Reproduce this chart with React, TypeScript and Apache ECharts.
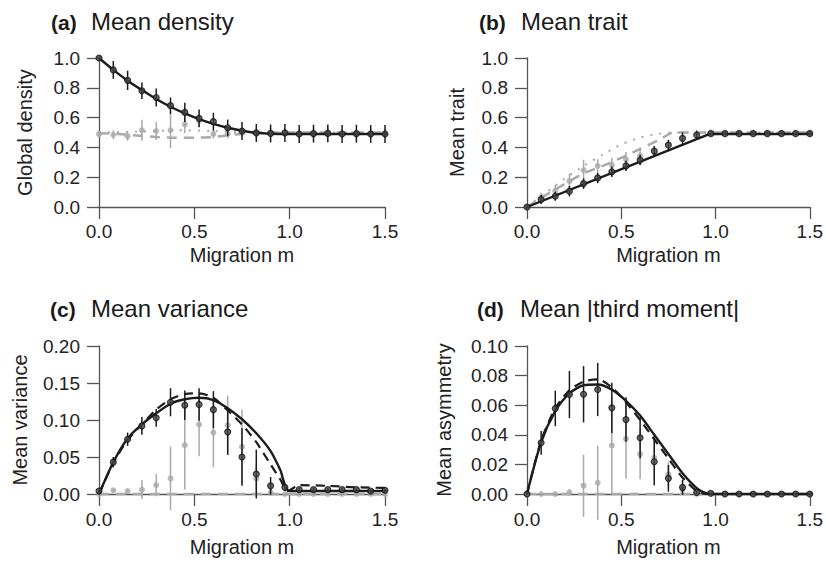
import React, { useEffect, useRef } from "react";
import * as echarts from "echarts";

const FONT = "'Liberation Sans', Arial, Helvetica, sans-serif";

// migration values at which simulations were run
const M = [0, 0.075, 0.15, 0.225, 0.3, 0.375, 0.45, 0.525, 0.6, 0.675, 0.75, 0.825, 0.9, 0.975, 1.05, 1.125, 1.2, 1.275, 1.35, 1.425, 1.5];

const xTicks = ["0.0", "0.5", "1.0", "1.5"];

// (a) Mean density
const aBlackPts = [1.0, 0.92, 0.85, 0.78, 0.735, 0.68, 0.635, 0.595, 0.573, 0.532, 0.51, 0.497, 0.494, 0.497, 0.49, 0.492, 0.494, 0.49, 0.492, 0.49, 0.49];
const aBlackErr = [0.01, 0.06, 0.065, 0.055, 0.06, 0.055, 0.065, 0.06, 0.06, 0.055, 0.06, 0.06, 0.06, 0.06, 0.06, 0.06, 0.06, 0.06, 0.06, 0.06, 0.06];
const aGrayPts = [0.49, 0.485, 0.475, 0.515, 0.51, 0.515, 0.555, 0.58, 0.49, 0.49, 0.505, 0.495, 0.5, 0.5, 0.495, 0.495, 0.5, 0.495, 0.49, 0.495, 0.495];
const aGrayErr = [0.02, 0.03, 0.03, 0.07, 0.06, 0.12, 0.06, 0.04, 0.03, 0.03, 0.03, 0.03, 0.03, 0.03, 0.03, 0.03, 0.03, 0.03, 0.03, 0.03, 0.03];
const aBlackCurve = [[0, 1.0], [0.075, 0.92], [0.15, 0.848], [0.225, 0.785], [0.3, 0.725], [0.375, 0.673], [0.45, 0.628], [0.525, 0.59], [0.6, 0.558], [0.675, 0.532], [0.75, 0.512], [0.825, 0.498], [0.9, 0.492], [1.0, 0.49], [1.54, 0.49]];
const aGrayDash = [[0, 0.495], [0.1, 0.49], [0.2, 0.48], [0.3, 0.47], [0.4, 0.465], [0.5, 0.465], [0.6, 0.47], [0.7, 0.485], [0.8, 0.495], [0.9, 0.5], [1.54, 0.5]];
const aGrayDot = [[0, 0.5], [0.2, 0.505], [0.4, 0.515], [0.6, 0.51], [0.8, 0.5], [1.54, 0.5]];

// (b) Mean trait
const bBlackPts = [0, 0.05, 0.072, 0.106, 0.157, 0.195, 0.236, 0.276, 0.315, 0.375, 0.416, 0.461, 0.483, 0.492, 0.492, 0.492, 0.492, 0.492, 0.492, 0.492, 0.492];
const bBlackErr = [0.01, 0.03, 0.03, 0.035, 0.035, 0.035, 0.035, 0.035, 0.035, 0.035, 0.035, 0.04, 0.03, 0.01, 0.01, 0.01, 0.01, 0.01, 0.01, 0.01, 0.01];
const bGrayPts = [0, 0.065, 0.108, 0.173, 0.247, 0.276, 0.281, 0.319, 0.344, null, null, null, null, 0.5, 0.5, 0.5, 0.5, 0.5, 0.5, 0.5, 0.5];
const bGrayErr = [0.01, 0.03, 0.04, 0.05, 0.07, 0.045, 0.05, 0.05, 0.05, 0, 0, 0, 0, 0.01, 0.01, 0.01, 0.01, 0.01, 0.01, 0.01, 0.01];
const bBlackCurve = [[0, 0], [0.96, 0.485], [1.0, 0.49], [1.54, 0.49]];
const bGrayDash = [[0, 0], [0.1, 0.08], [0.2, 0.155], [0.3, 0.225], [0.4, 0.275], [0.5, 0.33], [0.6, 0.39], [0.7, 0.45], [0.78, 0.5], [1.54, 0.5]];
const bGrayDot = [[0, 0], [0.1, 0.095], [0.2, 0.19], [0.3, 0.275], [0.4, 0.35], [0.5, 0.42], [0.6, 0.465], [0.7, 0.492], [0.78, 0.5], [1.54, 0.5]];

// (c) Mean variance
const cBlackPts = [0.004, 0.043, 0.074, 0.092, 0.103, 0.124, 0.12, 0.121, 0.114, 0.084, 0.05, 0.027, 0.011, 0.009, 0.006, 0.006, 0.006, 0.006, 0.006, 0.004, 0.005];
const cBlackErr = [0.002, 0.007, 0.009, 0.012, 0.012, 0.019, 0.02, 0.022, 0.025, 0.031, 0.039, 0.033, 0.012, 0.005, 0.002, 0.002, 0.002, 0.002, 0.002, 0.002, 0.002];
const cGrayPts = [0, 0.005, 0.004, 0.006, 0.012, 0.021, 0.066, 0.094, 0.083, 0.093, 0.064, 0.021, 0.002, 0, 0, 0, 0, 0, 0, 0, 0];
const cGrayErr = [0, 0.002, 0.002, 0.013, 0.015, 0.043, 0.06, 0.043, 0.047, 0.04, 0.05, 0.02, 0.004, 0, 0, 0, 0, 0, 0, 0, 0];
const cBlackCurve = [[0, 0], [0.075, 0.043], [0.15, 0.075], [0.225, 0.094], [0.3, 0.109], [0.375, 0.122], [0.45, 0.128], [0.525, 0.13], [0.6, 0.127], [0.675, 0.116], [0.75, 0.101], [0.825, 0.082], [0.9, 0.058], [0.95, 0.033], [1.0, 0.004], [1.53, 0.004]];
const cBlackDash = [[0, 0], [0.075, 0.042], [0.15, 0.073], [0.225, 0.094], [0.3, 0.114], [0.375, 0.128], [0.45, 0.135], [0.525, 0.136], [0.6, 0.13], [0.675, 0.113], [0.75, 0.094], [0.825, 0.07], [0.9, 0.04], [0.95, 0.02], [0.99, 0.004], [1.05, 0.012], [1.2, 0.011], [1.35, 0.009], [1.55, 0.008]];
const cGrayDash = [[0, 0], [1.53, 0]];

// (d) Mean |third moment|
const dBlackPts = [0, 0.0346, 0.0578, 0.0672, 0.0674, 0.0706, 0.0582, 0.0503, 0.038, 0.0218, 0.0106, 0.0045, 0.001, 0.0005, 0, 0, 0, 0, 0, 0, 0];
const dBlackErr = [0, 0.008, 0.012, 0.016, 0.019, 0.018, 0.017, 0.015, 0.014, 0.016, 0.009, 0.005, 0.001, 0, 0, 0, 0, 0, 0, 0, 0];
const dGrayPts = [0, 0, 0, 0.0011, 0.0056, 0.0076, 0.0328, 0.0373, 0.027, 0.0245, 0.0133, 0.003, 0, 0, 0, 0, 0, 0, 0, 0, 0];
const dGrayErr = [0, 0, 0, 0.002, 0.021, 0.025, 0.033, 0.027, 0.017, 0.015, 0.008, 0.003, 0, 0, 0, 0, 0, 0, 0, 0, 0];
const dBlackCurve = [[0, 0], [0.075, 0.035], [0.15, 0.056], [0.225, 0.068], [0.3, 0.0735], [0.375, 0.074], [0.45, 0.0705], [0.525, 0.063], [0.6, 0.053], [0.675, 0.04], [0.75, 0.027], [0.825, 0.014], [0.9, 0.004], [0.95, 0.0005], [1.0, 0], [1.52, 0]];
const dBlackDash = [[0, 0], [0.075, 0.036], [0.15, 0.058], [0.225, 0.07], [0.3, 0.076], [0.375, 0.0775], [0.45, 0.072], [0.525, 0.062], [0.6, 0.05], [0.675, 0.037], [0.75, 0.024], [0.825, 0.011], [0.9, 0.002], [0.95, 0], [1.55, 0]];
const dGrayDash = [[0, 0], [1.53, 0]];

const BLACK = "#1c1c1c";
const GRAY = "#a9a9a9";
const AXIS = "#555555";

function lineS(i: number, data: number[][], color: string, width: number, type: any, z: number) {
  return {
    type: "line", xAxisIndex: i, yAxisIndex: i, data, showSymbol: false, symbol: "none",
    clip: false, z, silent: true, smooth: 0.25,
    lineStyle: { color, width, type, cap: "butt" },
  };
}

function errS(i: number, vals: (number | null)[], errs: number[], color: string, z: number) {
  const data = M.map((m, k) => [m, vals[k], errs[k]]).filter((d) => d[1] != null && (d[2] as number) > 0);
  return {
    type: "custom", xAxisIndex: i, yAxisIndex: i, z, clip: false, silent: true, data,
    encode: { x: 0, y: 1 },
    renderItem: (_p: any, api: any) => {
      const x = api.value(0), y = api.value(1), e = api.value(2);
      const p1 = api.coord([x, y - e]);
      const p2 = api.coord([x, y + e]);
      return { type: "line", shape: { x1: p1[0], y1: p1[1], x2: p2[0], y2: p2[1] }, style: { stroke: color, lineWidth: 1.5 } };
    },
  };
}

function ptS(i: number, vals: (number | null)[], dark: boolean, z: number) {
  const data = M.map((m, k) => [m, vals[k]]).filter((d) => d[1] != null);
  return {
    type: "scatter", xAxisIndex: i, yAxisIndex: i, data, z, silent: true, symbolSize: 6, clip: false,
    itemStyle: dark ? { color: "#444444", borderColor: "#111111", borderWidth: 1.1 } : { color: GRAY, borderWidth: 0 },
  };
}

const grids = [
  { left: 99, top: 58, width: 286, height: 149 },
  { left: 527, top: 58, width: 286, height: 149 },
  { left: 99, top: 346, width: 286, height: 148 },
  { left: 527, top: 346, width: 286, height: 148 },
];

const yNames = ["Global density", "Mean trait", "Mean variance", "Mean asymmetry"];
const yMax = [1.0, 1.0, 0.2, 0.1];
const yInt = [0.2, 0.2, 0.05, 0.02];
const yDec = [1, 1, 2, 2];
const yNameGap = [64, 60, 69, 73];
const xNameGap = [38, 38, 43, 43];
const xLabelMargin = [15, 15, 16, 16];

const titles = [
  { tag: "(a)", name: "Mean density", tx: 51, nx: 91, base: 30 },
  { tag: "(b)", name: "Mean trait", tx: 479, nx: 521, base: 30 },
  { tag: "(c)", name: "Mean variance", tx: 50, nx: 91, base: 317 },
  { tag: "(d)", name: "Mean |third moment|", tx: 477, nx: 520, base: 317 },
];

export default function App() {
  const ref = useRef<HTMLDivElement>(null);
  useEffect(() => {
    if (!ref.current) return;
    const chart = echarts.init(ref.current, null, { renderer: "svg" });
    const axisLine = { show: true, lineStyle: { color: AXIS, width: 1.3 } };
    const axisTick = { show: true, inside: false, length: 12, lineStyle: { color: AXIS, width: 1.3 } };
    const xAxis = grids.map((_, i) => ({
      type: "value", gridIndex: i, min: 0, max: 1.5, interval: 0.5,
      name: "Migration m", nameLocation: "middle", nameGap: xNameGap[i],
      nameTextStyle: { fontFamily: FONT, fontSize: 20, color: "#222" },
      axisLine, axisTick, splitLine: { show: false },
      axisLabel: { fontFamily: FONT, fontSize: 19, color: "#222", margin: xLabelMargin[i], formatter: (v: number) => xTicks[Math.round(v / 0.5)] ?? v.toFixed(1) },
    }));
    const yAxis = grids.map((_, i) => ({
      type: "value", gridIndex: i, min: 0, max: yMax[i], interval: yInt[i],
      name: yNames[i], nameLocation: "middle", nameGap: yNameGap[i], nameRotate: 90,
      nameTextStyle: { fontFamily: FONT, fontSize: 20, color: "#222" },
      axisLine, axisTick, splitLine: { show: false },
      axisLabel: { fontFamily: FONT, fontSize: 19, color: "#222", margin: 19, formatter: (v: number) => v.toFixed(yDec[i]) },
    }));
    const series: any[] = [
      // a
      lineS(0, aGrayDot, GRAY, 2, [2, 7], 1),
      lineS(0, aGrayDash, GRAY, 2.5, [10, 7], 2),
      errS(0, aGrayPts, aGrayErr, GRAY, 3),
      ptS(0, aGrayPts, false, 4),
      lineS(0, aBlackCurve, BLACK, 2.4, "solid", 6),
      errS(0, aBlackPts, aBlackErr, BLACK, 7),
      ptS(0, aBlackPts, true, 8),
      // b
      lineS(1, bGrayDot, GRAY, 2, [2, 7], 1),
      lineS(1, bGrayDash, GRAY, 2.5, [10, 7], 2),
      errS(1, bGrayPts, bGrayErr, GRAY, 3),
      ptS(1, bGrayPts, false, 4),
      lineS(1, bBlackCurve, BLACK, 2.4, "solid", 6),
      errS(1, bBlackPts, bBlackErr, BLACK, 7),
      ptS(1, bBlackPts, true, 8),
      // c
      lineS(2, cGrayDash, GRAY, 2.5, [10, 7], 2),
      errS(2, cGrayPts, cGrayErr, GRAY, 3),
      ptS(2, cGrayPts, false, 4),
      lineS(2, cBlackDash, BLACK, 2.2, [9, 6], 5),
      lineS(2, cBlackCurve, BLACK, 2.4, "solid", 6),
      errS(2, cBlackPts, cBlackErr, BLACK, 7),
      ptS(2, cBlackPts, true, 8),
      // d
      lineS(3, dGrayDash, GRAY, 2.5, [10, 7], 2),
      errS(3, dGrayPts, dGrayErr, GRAY, 3),
      ptS(3, dGrayPts, false, 4),
      lineS(3, dBlackDash, BLACK, 2.2, [9, 6], 5),
      lineS(3, dBlackCurve, BLACK, 2.4, "solid", 6),
      errS(3, dBlackPts, dBlackErr, BLACK, 7),
      ptS(3, dBlackPts, true, 8),
    ];
    const graphic: any[] = [];
    titles.forEach((t) => {
      graphic.push({ type: "text", x: t.tx, y: t.base - 0.35 * 21, silent: true,
        style: { text: t.tag, fontFamily: FONT, fontSize: 21, fontWeight: "bold", fill: "#1a1a1a", align: "left", verticalAlign: "middle" } });
      graphic.push({ type: "text", x: t.nx, y: t.base - 0.35 * 24, silent: true,
        style: { text: t.name, fontFamily: FONT, fontSize: 24, fill: "#1a1a1a", align: "left", verticalAlign: "middle" } });
    });
    chart.setOption({
      animation: false,
      backgroundColor: "#ffffff",
      grid: grids,
      xAxis, yAxis, series, graphic,
    });
    return () => chart.dispose();
  }, []);
  return <div ref={ref} style={{ position: "fixed", left: 0, top: 0, width: 826, height: 566, background: "#fff" }} />;
}
